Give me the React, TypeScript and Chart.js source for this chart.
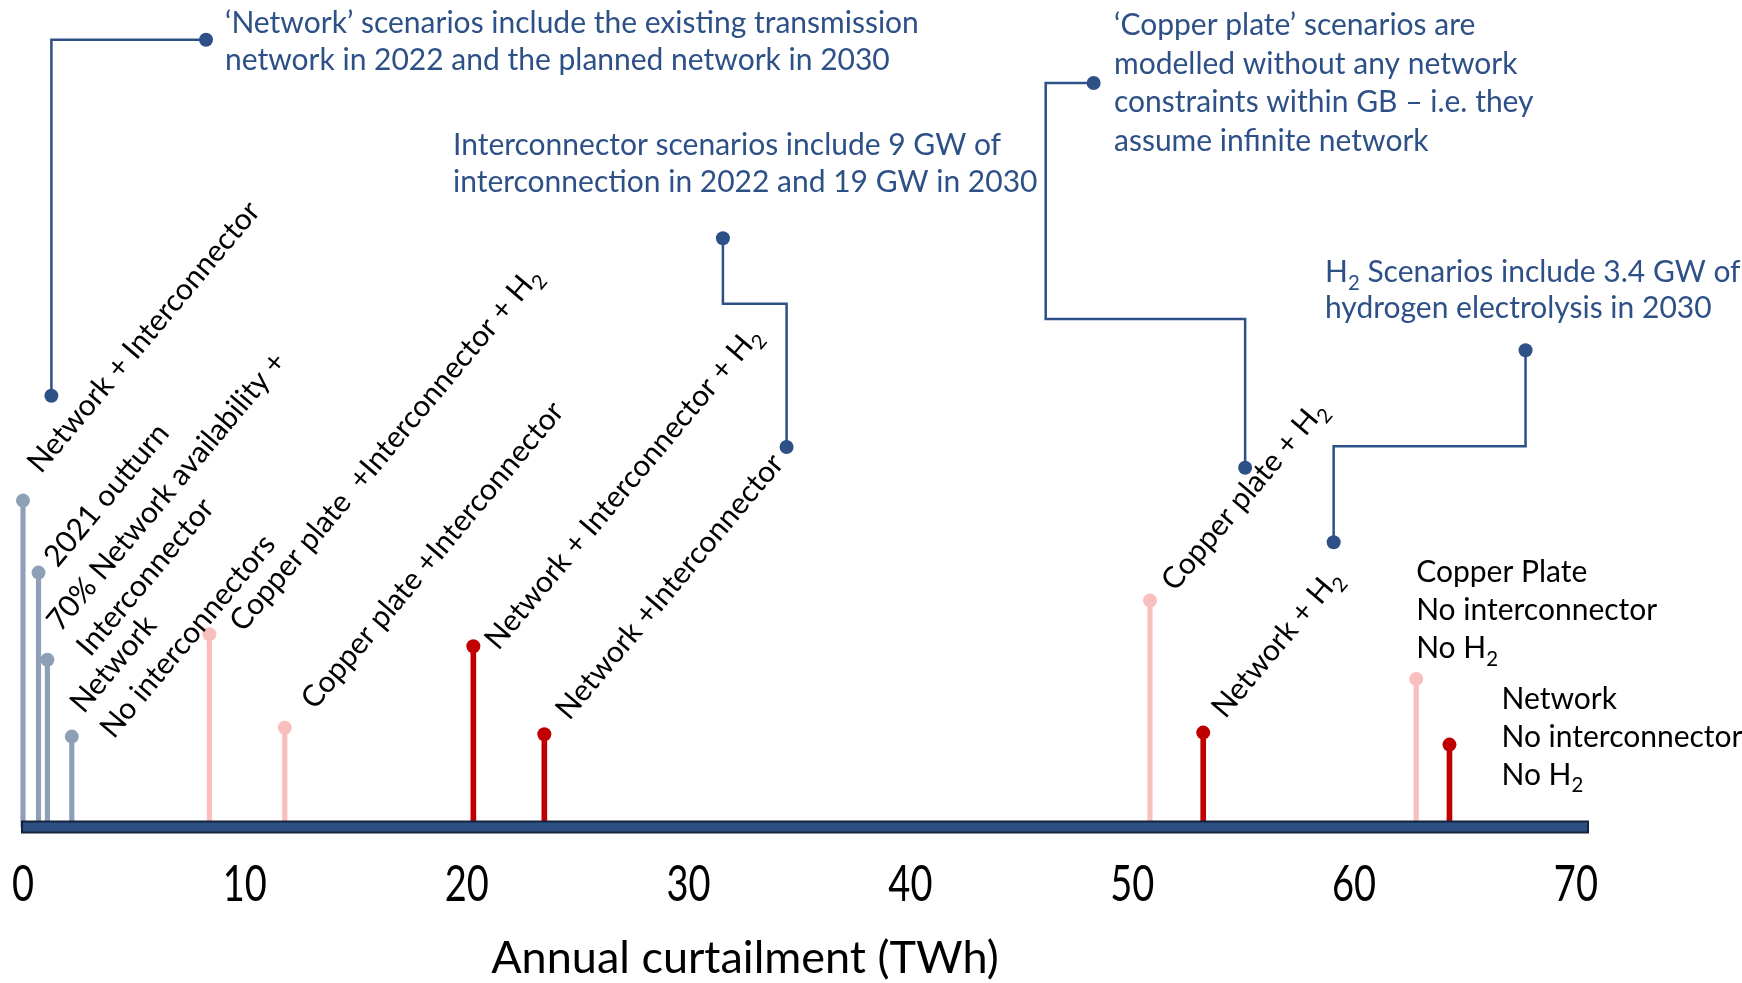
import React, { useEffect, useRef } from 'react';
import { Chart, registerables } from 'chart.js';
Chart.register(...registerables);

// ---------- data ----------
const CURTAILMENT_TWH = [0, 0.7, 1.1, 2.2, 8.4, 11.8, 20.3, 23.5, 50.8, 53.2, 62.8, 64.3];
const LABEL_HEIGHT = [40.8, 31.8, 20.9, 11.3, 24.1, 12.4, 22.6, 11.6, 28.3, 11.8, 18.5, 10.3];
// 0 = 2022 / reference, 1 = copper plate 2030, 2 = network 2030
const GROUP = [0, 0, 0, 0, 1, 1, 2, 2, 1, 2, 1, 2];
const SCENARIO_LABELS = [
  ['Network + Interconnector'],
  ['2021 outturn'],
  ['70% Network availability +', 'Interconnector'],
  ['Network', 'No interconnectors'],
  ['Copper plate  +Interconnector + H₂'],
  ['Copper plate +Interconnector'],
  ['Network + Interconnector + H₂'],
  ['Network +Interconnector'],
  ['Copper plate + H₂'],
  ['Network + H₂'],
  ['Copper Plate', 'No interconnector', 'No H₂'],
  ['Network', 'No interconnector', 'No H₂'],
];
const TICK_VALUES = [0, 10, 20, 30, 40, 50, 60, 70];
const AXIS_TITLE = 'Annual curtailment (TWh)';
const NOTE_TEXTS = [
  ['‘Network’ scenarios include the existing transmission', 'network in 2022 and the planned network in 2030'],
  ['Interconnector scenarios include 9 GW of', 'interconnection in 2022 and 19 GW in 2030'],
  ['‘Copper plate’ scenarios are', 'modelled without any network', 'constraints within GB – i.e. they', 'assume infinite network'],
  ['H₂ Scenarios include 3.4 GW of', 'hydrogen electrolysis in 2030'],
];
// connector paths in data coordinates (x: TWh, y: label-height units)
const NOTE_CONNECTORS = [
  [[8.25, 98.4], [1.28, 98.4], [1.28, 53.9]],
  [[31.55, 73.6], [31.55, 65.4], [34.42, 65.4], [34.42, 47.5]],
  [[48.26, 93.0], [46.1, 93.0], [46.1, 63.5], [55.09, 63.5], [55.09, 44.9]],
  [[67.73, 59.6], [67.73, 47.6], [59.08, 47.6], [59.08, 35.6]],
];

// ---------- styles / layout ----------
const GROUP_COLORS = ['#8e9fb8', '#f9bebe', '#c00000'];
const GROUP_STEM_WIDTH = [4.5, 4.5, 5];
const NAVY = '#2d5087';
const FONT = 'Lato';
const LABEL_LAYOUT = [
  { rot: true, dx: 18, dy: -26 },
  { rot: true, dx: 19, dy: -4 },
  { rot: true, dx: 13, dy: -27 },
  { rot: true, dx: 12, dy: -22 },
  { rot: true, dx: 34, dy: -1 },
  { rot: true, dx: 30, dy: -17 },
  { rot: true, dx: 25, dy: 5 },
  { rot: true, dx: 25, dy: -13 },
  { rot: true, dx: 25, dy: -8 },
  { rot: true, dx: 22, dy: -13 },
  { rot: false, dx: 0, dy: -97 },
  { rot: false, dx: 52, dy: -36 },
];
const NOTE_LAYOUT = [
  { x: 225, y: 33, lh: 37 },
  { x: 453, y: 155, lh: 37 },
  { x: 1114, y: 35, lh: 38.5 },
  { x: 1325, y: 282, lh: 36 },
];

function drawRich(ctx: CanvasRenderingContext2D, text: string, x: number, y: number, size: number) {
  const parts = text.split(/(₂)/);
  let cx = x;
  for (const p of parts) {
    if (!p) continue;
    if (p === '₂') {
      ctx.font = `${size * 0.68}px ${FONT}`;
      ctx.fillText('2', cx, y + size * 0.26);
      cx += ctx.measureText('2').width;
    } else {
      ctx.font = `${size}px ${FONT}`;
      ctx.fillText(p, cx, y);
      cx += ctx.measureText(p).width;
    }
  }
}

const decorPlugin = {
  id: 'decor',
  afterDatasetsDraw(chart: any) {
    const { ctx } = chart;
    const x = chart.scales.x;
    const y = chart.scales.y;
    const y0 = y.getPixelForValue(0);
    ctx.save();
    // axis bar
    const left = x.getPixelForValue(0) - 1;
    const right = x.getPixelForValue(x.max) + 1;
    ctx.fillStyle = '#2b4f82';
    ctx.fillRect(left, y0 - 5.5, right - left, 11);
    ctx.strokeStyle = '#15223a';
    ctx.lineWidth = 2;
    ctx.strokeRect(left, y0 - 5.5, right - left, 11);
    ctx.restore();
  },
  afterDraw(chart: any) {
    const { ctx } = chart;
    const xs = chart.scales.x;
    const ys = chart.scales.y;
    ctx.save();
    ctx.textBaseline = 'alphabetic';
    ctx.textAlign = 'left';

    // tick labels
    ctx.fillStyle = '#000';
    TICK_VALUES.forEach((v) => {
      ctx.save();
      ctx.translate(xs.getPixelForValue(v), 901);
      ctx.scale(1, 1.32);
      ctx.font = `38px ${FONT}`;
      ctx.textAlign = 'center';
      ctx.fillText(String(v), 0, 0);
      ctx.restore();
    });

    // axis title
    ctx.font = `45px ${FONT}`;
    ctx.textAlign = 'center';
    ctx.fillText(AXIS_TITLE, 745, 973);
    ctx.textAlign = 'left';

    // scenario labels
    CURTAILMENT_TWH.forEach((v, i) => {
      const px = xs.getPixelForValue(v);
      const py = ys.getPixelForValue(LABEL_HEIGHT[i]);
      const lay = LABEL_LAYOUT[i];
      const lines = SCENARIO_LABELS[i];
      ctx.fillStyle = '#000';
      if (lay.rot) {
        ctx.save();
        ctx.translate(px + lay.dx, py + lay.dy);
        ctx.rotate((-50 * Math.PI) / 180);
        lines.forEach((ln, k) => drawRich(ctx, ln, 0, k * 39, 30));
        ctx.restore();
      } else {
        lines.forEach((ln, k) => drawRich(ctx, ln, px + lay.dx, py + lay.dy + k * 38, 30));
      }
    });

    // notes
    NOTE_CONNECTORS.forEach((path) => {
      const pts = path.map(([a, b]) => [xs.getPixelForValue(a), ys.getPixelForValue(b)]);
      ctx.strokeStyle = NAVY;
      ctx.lineWidth = 2.5;
      ctx.beginPath();
      pts.forEach(([a, b], k) => (k === 0 ? ctx.moveTo(a, b) : ctx.lineTo(a, b)));
      ctx.stroke();
      ctx.fillStyle = NAVY;
      [pts[0], pts[pts.length - 1]].forEach(([a, b]) => {
        ctx.beginPath();
        ctx.arc(a, b, 7, 0, Math.PI * 2);
        ctx.fill();
      });
    });
    ctx.fillStyle = NAVY;
    NOTE_TEXTS.forEach((lines, i) => {
      const lay = NOTE_LAYOUT[i];
      lines.forEach((ln, k) => drawRich(ctx, ln, lay.x, lay.y + k * lay.lh, 30));
    });
    ctx.restore();
  },
};

export default function App() {
  const ref = useRef<HTMLCanvasElement>(null);
  useEffect(() => {
    document.body.style.margin = '0';
    const canvas = ref.current!;
    const groups = [0, 1, 2];
    const stemSets = groups.map((g) => ({
      type: 'bar' as const,
      data: CURTAILMENT_TWH.map((v, i) => ({ x: v, y: LABEL_HEIGHT[i], g: GROUP[i] }))
        .filter((d) => d.g === g)
        .map((d) => ({ x: d.x, y: d.y })),
      backgroundColor: GROUP_COLORS[g],
      barThickness: GROUP_STEM_WIDTH[g],
      grouped: false,
      clip: false,
      order: 2,
    }));
    const dotSet = {
      type: 'line' as const,
      data: CURTAILMENT_TWH.map((v, i) => ({ x: v, y: LABEL_HEIGHT[i] })),
      showLine: false,
      pointRadius: 7,
      pointBorderWidth: 0,
      pointBackgroundColor: GROUP.map((g) => GROUP_COLORS[g]),
      clip: false,
      order: 1,
    };
    const chart = new Chart(canvas, {
      type: 'bar',
      data: { datasets: [...stemSets, dotSet] as any },
      options: {
        responsive: false,
        animation: false,
        devicePixelRatio: 1,
        layout: { padding: { left: 23, right: 155, top: 27, bottom: 156 } },
        plugins: { legend: { display: false }, tooltip: { enabled: false } },
        scales: {
          x: { type: 'linear', min: 0, max: 70.5, offset: false, display: false },
          y: { type: 'linear', min: 0, max: 100, display: false },
        },
      },
      plugins: [decorPlugin],
    });
    return () => chart.destroy();
  }, []);
  return <canvas ref={ref} width={1742} height={983} style={{ display: 'block' }} />;
}
